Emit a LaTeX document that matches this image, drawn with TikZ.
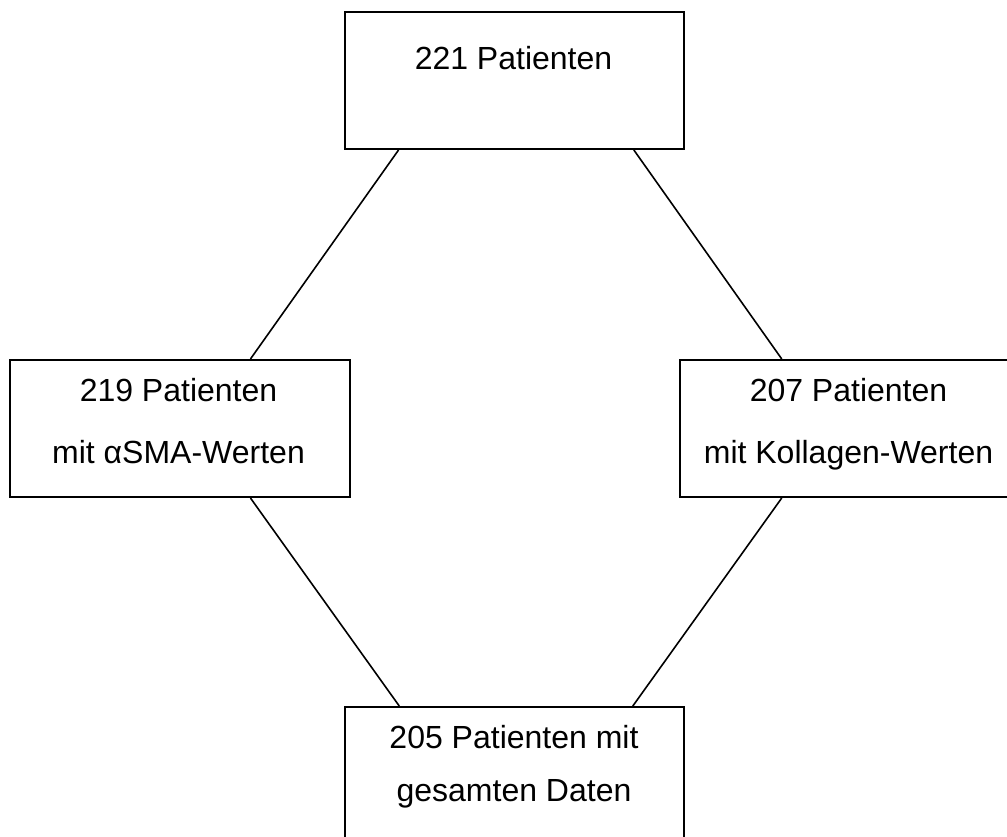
\documentclass[tikz,border=0pt]{standalone}
\usepackage{fontspec}
\setmainfont{Liberation Sans}
\usetikzlibrary{calc}
\begin{document}
\begin{tikzpicture}[x=1pt,y=-1pt,
  box/.style={draw=black,line width=2pt,rectangle,inner sep=0pt,minimum width=#1,minimum height=137pt},
  txt/.style={anchor=base,inner sep=0pt,font=\fontsize{32}{38}\selectfont},
  conn/.style={line width=1.6pt,black}]
\useasboundingbox (0,0) rectangle (1007,837);
\clip (0,0) rectangle (1007,837);
\fill[white] (0,0) rectangle (1007,837);
\node[box=339pt] (top) at (514.5,80.5) {};
\node[box=340pt] (left) at (180,428.5) {};
\node[box=336pt] (right) at (848,428.5) {};
\node[box=339pt] (bottom) at (514.5,775.5) {};
\node[txt] (t1) at (513.5,70) {221 Patienten};
\node[txt] (t2) at (178.5,401) {219 Patienten};
\node[txt] (t3) at (178.5,463) {mit αSMA-Werten};
\node[txt] (t4) at (848.5,401) {207 Patienten};
\node[txt] (t5) at (848.5,463) {mit Kollagen-Werten};
\node[txt] (t6) at (514,748) {205 Patienten mit};
\node[txt] (t7) at (514,801) {gesamten Daten};
\draw[conn] ($(top.south west)!0.16!(top.south east)$) -- ($(left.north west)!0.706!(left.north east)$);
\draw[conn] ($(top.south west)!0.85!(top.south east)$) -- ($(right.north west)!0.304!(right.north east)$);
\draw[conn] ($(left.south west)!0.706!(left.south east)$) -- ($(bottom.north west)!0.162!(bottom.north east)$);
\draw[conn] ($(right.south west)!0.304!(right.south east)$) -- ($(bottom.north west)!0.847!(bottom.north east)$);
\end{tikzpicture}
\end{document}
